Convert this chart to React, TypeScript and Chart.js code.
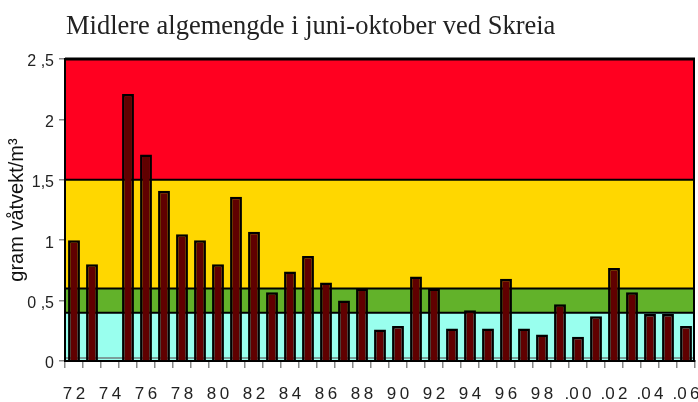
import { useEffect, useRef } from "react";
import { Chart, registerables } from "chart.js";

Chart.register(...registerables);

const titleText = "Midlere algemengde i juni-oktober ved Skreia";
const yAxisTitle = "gram våtvekt/m³";

const years = [
  "72", "73", "74", "75", "76", "77", "78", "79", "80", "81", "82", "83",
  "84", "85", "86", "87", "88", "89", "90", "91", "92", "93", "94", "95",
  "96", "97", "98", "99", "00", "01", "02", "03", "04", "05", "06",
];

const values: (number | null)[] = [
  1.0, 0.8, null, 2.21, 1.71, 1.41, 1.05, 1.0, 0.8, 1.36, 1.07, 0.57,
  0.74, 0.87, 0.65, 0.5, 0.6, 0.26, 0.29, 0.7, 0.6, 0.27, 0.42, 0.27,
  0.68, 0.27, 0.22, 0.47, 0.2, 0.37, 0.77, 0.57, 0.39, 0.39, 0.29,
];

const xTickLabels = [
  "7\u20092", "7\u20094", "7\u20096", "7\u20098", "8\u20090", "8\u20092",
  "8\u20094", "8\u20096", "8\u20098", "9\u20090", "9\u20092", "9\u20094",
  "9\u20096", "9\u20098", ".0\u20090", ".0\u20092", ".0\u20094", ".0\u20096",
];

const yTickLabels = ["0", "0 ,5", "1", "1,5", "2", "2 ,5"];

const bandLimits = [0, 0.4, 0.6, 1.5, 2.5];
const bandColors = ["#99FFEE", "#62B22A", "#FFD700", "#FF0020"];

const bandsPlugin = {
  id: "bands",
  beforeDraw(chart: any) {
    const { ctx, chartArea, scales } = chart;
    const y = scales.y;
    const { left, right } = chartArea;
    ctx.save();
    for (let i = 0; i < bandColors.length; i++) {
      const top = y.getPixelForValue(bandLimits[i + 1]);
      const bottom = y.getPixelForValue(bandLimits[i]);
      ctx.fillStyle = bandColors[i];
      ctx.fillRect(left, top, right - left, bottom - top);
    }
    const y0 = y.getPixelForValue(0);
    ctx.strokeStyle = "#7a9f9a";
    ctx.lineWidth = 2;
    ctx.beginPath();
    ctx.moveTo(left, y0 - 3);
    ctx.lineTo(right, y0 - 3);
    ctx.stroke();
    ctx.strokeStyle = "#000";
    for (let i = 1; i < bandLimits.length; i++) {
      const py = y.getPixelForValue(bandLimits[i]);
      ctx.lineWidth = i === bandLimits.length - 1 ? 3 : 2;
      ctx.beginPath();
      ctx.moveTo(left, py);
      ctx.lineTo(right, py);
      ctx.stroke();
    }
    ctx.lineWidth = 2;
    ctx.beginPath();
    ctx.moveTo(right - 1, y.getPixelForValue(bandLimits[bandLimits.length - 1]));
    ctx.lineTo(right - 1, y0);
    ctx.stroke();
    ctx.restore();
  },
  afterDraw(chart: any) {
    const { ctx } = chart;
    ctx.save();
    ctx.font = '26.5px "Liberation Serif"';
    ctx.fillStyle = "#222";
    ctx.textBaseline = "alphabetic";
    ctx.textAlign = "left";
    ctx.fillText(titleText, 66, 34);
    ctx.restore();
  },
};

export default function App() {
  const ref = useRef<HTMLCanvasElement | null>(null);

  useEffect(() => {
    if (!ref.current) return;
    const chart = new Chart(ref.current, {
      type: "bar",
      data: {
        labels: years,
        datasets: [
          {
            data: values,
            backgroundColor: "#600000",
            borderColor: "#000",
            borderWidth: 2.5,
            barPercentage: 0.66,
            categoryPercentage: 1,
          },
        ],
      },
      options: {
        responsive: false,
        animation: false,
        layout: { padding: { top: 59, right: 3, left: 0, bottom: 0 } },
        plugins: {
          legend: { display: false },
          title: { display: false },
          tooltip: { enabled: false },
        },
        scales: {
          x: {
            offset: true,
            grid: {
              offset: true,
              drawOnChartArea: false,
              tickLength: 7,
              color: "#888",
              lineWidth: 1.5,
            },
            border: { display: true, color: "#000", width: 2 },
            ticks: {
              autoSkip: false,
              maxRotation: 0,
              padding: 16,
              color: "#222",
              font: { family: '"Liberation Sans", Arial', size: 17 },
              callback: (_v: any, i: number) => (i % 2 === 0 ? xTickLabels[i / 2] : ""),
            },
            afterFit: (s: any) => {
              s.height = 41;
              s.paddingLeft = 0;
              s.paddingRight = 0;
            },
          },
          y: {
            min: 0,
            max: 2.5,
            grid: {
              drawOnChartArea: false,
              tickLength: 6,
              color: "#888",
              lineWidth: 1.5,
            },
            border: { display: true, color: "#000", width: 2 },
            ticks: {
              stepSize: 0.5,
              padding: 5,
              labelOffset: 3,
              color: "#222",
              font: { family: '"Liberation Sans", Arial', size: 16 },
              callback: (_v: any, i: number) => yTickLabels[i],
            },
            title: {
              display: true,
              text: yAxisTitle,
              color: "#111",
              font: { family: '"Liberation Sans", Arial', size: 20 },
              padding: { top: 5, bottom: 0 },
            },
            afterFit: (s: any) => {
              s.width = 65;
              s.paddingTop = 0;
              s.paddingBottom = 0;
            },
          },
        },
      },
      plugins: [bandsPlugin],
    });
    return () => chart.destroy();
  }, []);

  return (
    <div style={{ position: "absolute", left: 0, top: 0, width: 698, height: 402, background: "#fff" }}>
      <canvas ref={ref} width={698} height={402} />
    </div>
  );
}
